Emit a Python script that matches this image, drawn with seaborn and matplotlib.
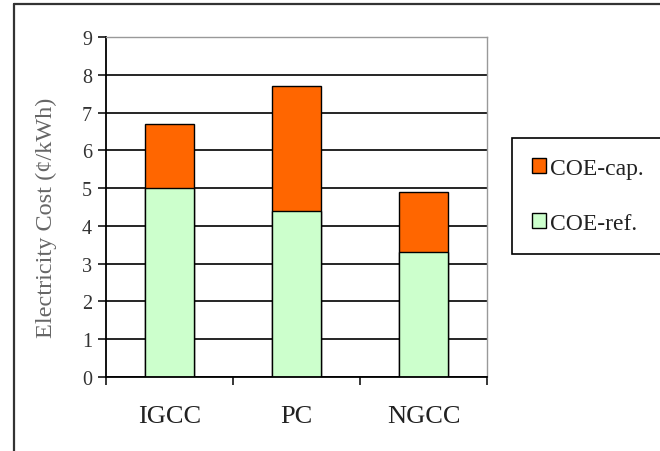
import matplotlib
matplotlib.use("Agg")
import matplotlib.pyplot as plt
import seaborn as sns
import pandas as pd
from matplotlib.patches import Patch
from matplotlib.lines import Line2D

sns.set_style("white")
plt.rcParams['font.family'] = ['Liberation Serif', 'DejaVu Serif']

# values (cents per kWh)
plants = ['IGCC', 'PC', 'NGCC']
coe_ref = [5.0, 4.4, 3.3]
coe_cap = [1.7, 3.3, 1.6]

df = pd.DataFrame({'plant': plants, 'ref': coe_ref, 'cap': coe_cap})
df['total'] = df['ref'] + df['cap']

orange = '#FF6600'
green = '#CCFFCC'

fig = plt.figure(figsize=(6.6, 4.52), dpi=100)
ax = fig.add_axes([0.1606, 0.1637, 0.5773, 0.7522])

# stacked bars: total first (orange), reference on top of it (green)
sns.barplot(data=df, x='plant', y='total', order=plants, color=orange,
            width=0.39, edgecolor='black', linewidth=1.0, saturation=1, ax=ax)
sns.barplot(data=df, x='plant', y='ref', order=plants, color=green,
            width=0.39, edgecolor='black', linewidth=1.0, saturation=1, ax=ax)

ax.set_ylim(0, 9)
ax.set_xlim(-0.5, 2.5)
ax.set_yticks(range(0, 10))
ax.set_axisbelow(True)
ax.yaxis.grid(True, color='black', linewidth=1.2)
ax.get_ygridlines()[-1].set_visible(False)

for side in ['left', 'bottom']:
    ax.spines[side].set_color('black')
    ax.spines[side].set_linewidth(1.3)
for side in ['top', 'right']:
    ax.spines[side].set_visible(True)
    ax.spines[side].set_color('#999999')
    ax.spines[side].set_linewidth(1.0)

ax.set_xticks([-0.5, 0.5, 1.5, 2.5], minor=True)
ax.tick_params(axis='x', which='minor', length=6, width=1.3, direction='out', bottom=True)
ax.tick_params(axis='x', which='major', length=0, labelsize=19, pad=20)
ax.tick_params(axis='y', length=6, width=1.3, direction='out', left=True,
               labelsize=14.5, pad=4)
for lab in ax.get_yticklabels():
    lab.set_color('#333333')
for lab in ax.get_xticklabels():
    lab.set_color('#222222')

ax.set_xlabel('')
ax.set_ylabel('Electricity Cost (¢/kWh)', fontsize=17.5, color='#666666')
ax.yaxis.set_label_coords(-0.128, 0.47)

handles = [Patch(facecolor=orange, edgecolor='black', linewidth=1.0, label='COE-cap.'),
           Patch(facecolor=green, edgecolor='black', linewidth=1.0, label='COE-ref.')]
leg = fig.legend(handles=handles, loc='upper left', bbox_to_anchor=(512 / 660, 1 - 139 / 452),
                 frameon=True, fancybox=False, edgecolor='black', framealpha=1,
                 fontsize=17, handlelength=0.6, handleheight=0.6, handletextpad=0.15,
                 labelspacing=1.45, borderpad=0.85, borderaxespad=0)
leg.get_frame().set_linewidth(1.2)
for t in leg.get_texts():
    t.set_color('#222222')

# outer chart border (left and top edges visible)
x0 = 14 / 660
y0 = 1 - 5 / 452
fig.add_artist(Line2D([x0, x0], [0, y0], transform=fig.transFigure, color='#333333', linewidth=1.6))
fig.add_artist(Line2D([x0, 1], [y0, y0], transform=fig.transFigure, color='#333333', linewidth=1.6))

fig.savefig('out.png', dpi=100)
